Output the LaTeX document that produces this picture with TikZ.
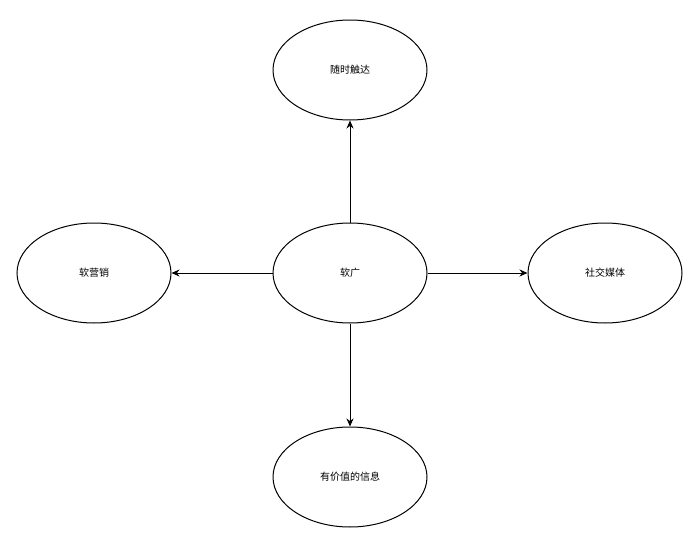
\documentclass[tikz,border=0pt]{standalone}
\usepackage{fontspec}
\setmainfont{Noto Sans CJK SC}
\usetikzlibrary{shapes.geometric,arrows.meta}
\begin{document}
\begin{tikzpicture}[x=1pt,y=-1pt,
  el/.style={ellipse,draw,line width=1pt,minimum width=154pt,minimum height=100pt,inner sep=0pt,font=\fontsize{10}{12}\selectfont},
  ar/.style={draw,line width=1pt,-{Stealth[length=8pt,width=7pt]}}]
\useasboundingbox (0,0) rectangle (697,546);
\node[el] (c) at (350,273) {软广};
\node[el] (t) at (350,70) {随时触达};
\node[el] (l) at (94,273) {软营销};
\node[el] (r) at (605,273) {社交媒体};
\node[el] (b) at (350,477) {有价值的信息};
\draw[ar] (c) -- (t);
\draw[ar] (c) -- (l);
\draw[ar] (c) -- (r);
\draw[ar] (c) -- (b);
\end{tikzpicture}
\end{document}
